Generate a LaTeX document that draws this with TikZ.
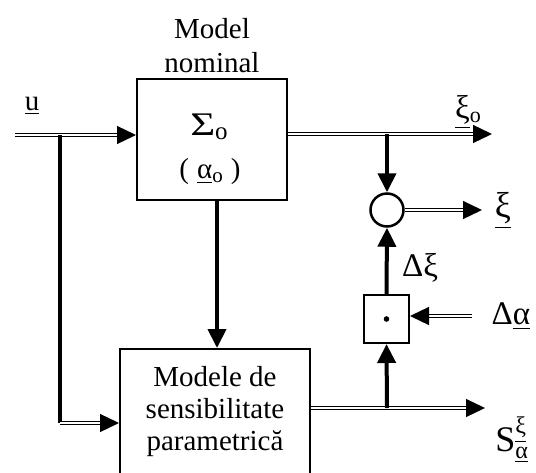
\documentclass[tikz,border=0pt]{standalone}
\usepackage{fontspec}
\setmainfont{Liberation Serif}
\usepackage{amsmath}
\usetikzlibrary{arrows.meta}
\tikzset{
  tip/.style={-{Triangle[length=19pt,width=18pt]}},
  blk/.style={draw, line width=2pt, inner sep=0pt},
  thk/.style={line width=4pt, tip},
  thkplain/.style={line width=4pt},
  dbl/.style={double, double distance=1.8pt, line width=1.3pt, tip},
  lbl/.style={font=\fontsize{29}{32}\selectfont, inner sep=0pt},
  glbl/.style={font=\fontsize{33}{33}\selectfont, inner sep=0pt}
}
\begin{document}
\begin{tikzpicture}[x=1pt,y=-1pt]
\useasboundingbox (0,0) rectangle (536,472);
\clip (0,0) rectangle (536,472);
% blocks
\node[blk, minimum width=150pt, minimum height=121pt] (nom) at (212,139.5) {};
\node[inner sep=0pt, font=\fontsize{33}{33}\selectfont] (sig) at (209,127) {\scalebox{1.3}[1]{Σ}\raisebox{-0.25ex}{\fontsize{25}{25}\selectfont o}};
\node[lbl] (par) at (210,172) {(\;\underline{α}\raisebox{-0.3ex}{\fontsize{21}{21}\selectfont o}\;)};
\node[lbl, font=\fontsize{29}{34}\selectfont, align=center] (title) at (212,46) {Model\\nominal};
\node[blk, minimum width=190pt, minimum height=125pt, align=center, lbl] (sens) at (215,411.5) {Modele de\\sensibilitate\\parametrică};
\node[draw, circle, line width=2.5pt, minimum size=33pt, inner sep=0pt] (sum) at (387,210) {};
\node[blk, minimum width=45pt, minimum height=48pt] (mul) at (386.5,319) {};
\fill (mul.center) circle (2.8pt);
% coordinates
\coordinate (uin) at (15,135);
\coordinate (ub) at (60,135);
\coordinate (uc) at (60,423);
\coordinate (xo) at (492,134);
\coordinate (xb) at (387,134);
\coordinate (xout) at (482,210);
\coordinate (ain) at (472,316);
\coordinate (sout) at (485,408);
\coordinate (sb) at (387,408);
% connectors
\draw[dbl] (uin) -- (nom.west |- uin);
\draw[thkplain] (ub) -- (uc);
\draw[dbl] (uc) -- (uc -| sens.west);
\draw[thk] (nom.south -| 217,0) -- (sens.north -| 217,0);
\draw[dbl] (nom.east |- xo) -- (xo);
\draw[thk] (xb) -- (sum.north);
\draw[dbl] (sum.east) -- (xout);
\draw[thk] (mul.north) -- (sum.south);
\draw[dbl] (ain) -- (ain -| mul.east);
\draw[dbl] (sens.east |- sout) -- (sout);
\draw[thk] (sb) -- (mul.south);
% labels
\node[lbl] (lu) at (32,106) {\underline{u}};
\node[glbl] (lxo) at (468,112) {\underline{ξ}\raisebox{-0.3ex}{\fontsize{22}{22}\selectfont o}};
\node[glbl, font=\fontsize{36}{36}\selectfont] (lx) at (503,211) {\underline{ξ}};
\node[glbl] (ldx) at (420,268) {Δξ};
\node[glbl] (lda) at (511,316) {Δ\underline{α}};
\node[inner sep=0pt, font=\fontsize{36}{36}\selectfont] (ls) at (512,440) {S$^{\text{\fontsize{24}{24}\selectfont\underline{ξ}}}_{\text{\fontsize{24}{24}\selectfont\underline{α}}}$};
\end{tikzpicture}
\end{document}
